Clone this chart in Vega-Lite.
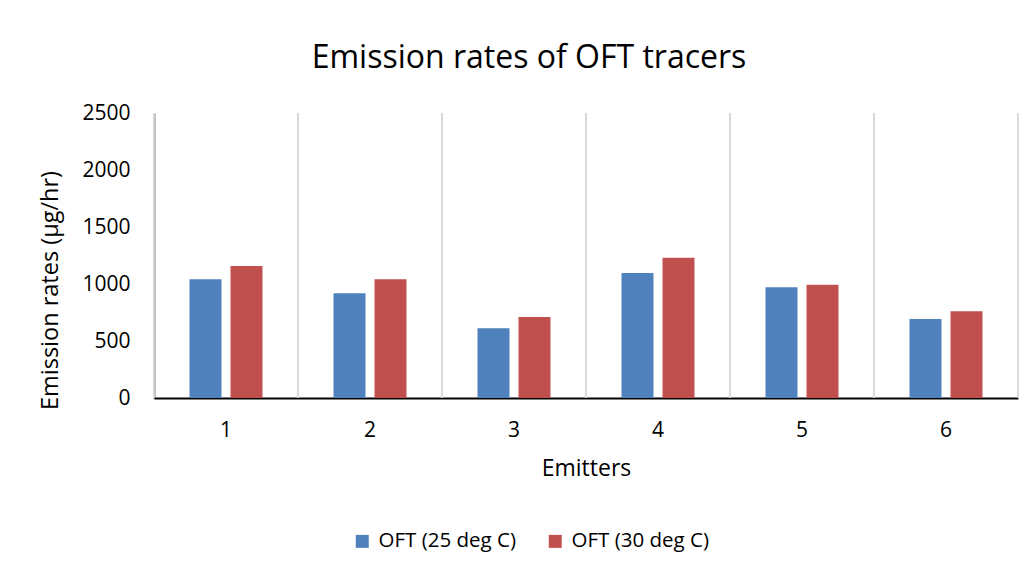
{
  "$schema": "https://vega.github.io/schema/vega-lite/v6.json",
  "width": 864,
  "height": 285,
  "autosize": {"type": "none"},
  "padding": {"left": 154, "top": 113, "right": 16, "bottom": 173},
  "background": "white",
  "config": {
    "view": {"stroke": null},
    "font": "Open Sans"
  },
  "title": {
    "text": "Emission rates of OFT tracers",
    "fontSize": 32,
    "fontWeight": "normal",
    "color": "#000000",
    "font": "Open Sans",
    "dx": -57,
    "offset": 27
  },
  "data": {
    "values": [
      {"Emitter": "1", "Series": "OFT (25 deg C)", "Rate": 1041},
      {"Emitter": "1", "Series": "OFT (30 deg C)", "Rate": 1158},
      {"Emitter": "2", "Series": "OFT (25 deg C)", "Rate": 918},
      {"Emitter": "2", "Series": "OFT (30 deg C)", "Rate": 1041},
      {"Emitter": "3", "Series": "OFT (25 deg C)", "Rate": 611},
      {"Emitter": "3", "Series": "OFT (30 deg C)", "Rate": 711},
      {"Emitter": "4", "Series": "OFT (25 deg C)", "Rate": 1096},
      {"Emitter": "4", "Series": "OFT (30 deg C)", "Rate": 1231},
      {"Emitter": "5", "Series": "OFT (25 deg C)", "Rate": 971},
      {"Emitter": "5", "Series": "OFT (30 deg C)", "Rate": 994},
      {"Emitter": "6", "Series": "OFT (25 deg C)", "Rate": 693},
      {"Emitter": "6", "Series": "OFT (30 deg C)", "Rate": 760}
    ]
  },
  "layer": [
    {
      "mark": {"type": "rule", "color": "#d9d9d9", "strokeWidth": 1.5},
      "encoding": {
        "x": {"field": "Emitter", "type": "nominal", "bandPosition": 0, "scale": {"paddingInner": 0, "paddingOuter": 0}}
      }
    },
    {
      "mark": {"type": "rule", "color": "#d9d9d9", "strokeWidth": 1.5},
      "encoding": {
        "x": {"field": "Emitter", "type": "nominal", "bandPosition": 1, "scale": {"paddingInner": 0, "paddingOuter": 0}}
      }
    },
    {
      "mark": {"type": "bar"},
      "encoding": {
        "x": {
          "field": "Emitter",
          "type": "nominal",
          "scale": {"paddingInner": 0, "paddingOuter": 0},
          "axis": {
            "title": "Emitters",
            "titleFontSize": 23,
            "titleFontWeight": "normal",
            "titleColor": "#000000",
            "titleFont": "Open Sans",
            "titlePadding": 17,
            "labelAngle": 0,
            "labelFontSize": 21,
            "labelColor": "#000000",
            "labelFont": "Open Sans",
            "labelPadding": 32,
            "labelOffset": 6,
            "ticks": false,
            "domainColor": "#000000",
            "domainWidth": 2,
            "grid": false
          }
        },
        "xOffset": {
          "field": "Series",
          "type": "nominal",
          "scale": {"paddingInner": 0.22, "paddingOuter": 0.866}
        },
        "y": {
          "field": "Rate",
          "type": "quantitative",
          "scale": {"domain": [0, 2500]},
          "axis": {
            "title": "Emission rates (µg/hr)",
            "titleFontSize": 23.5,
            "titleFontWeight": "normal",
            "titleColor": "#000000",
            "titleFont": "Open Sans",
            "titleAngle": -90,
            "titleX": -104,
            "titleY": 177,
            "titleAlign": "center",
            "titleBaseline": "middle",
            "values": [0, 500, 1000, 1500, 2000, 2500],
            "format": "d",
            "labelFontSize": 21,
            "labelColor": "#000000",
            "labelFont": "Open Sans",
            "labelPadding": 24,
            "ticks": false,
            "grid": false,
            "domainColor": "#000000",
            "domainWidth": 1.5
          }
        },
        "color": {
          "field": "Series",
          "type": "nominal",
          "scale": {"domain": ["OFT (25 deg C)", "OFT (30 deg C)"], "range": ["#4F81BD", "#C0504D"]},
          "legend": {
            "title": null,
            "orient": "none",
            "direction": "horizontal",
            "legendX": 198,
            "legendY": 418,
            "symbolType": "square",
            "symbolSize": 169,
            "symbolStrokeWidth": 0,
            "labelFontSize": 20.5,
            "labelColor": "#000000",
            "labelFont": "Open Sans",
            "columnPadding": 29,
            "labelOffset": 6
          }
        }
      }
    }
  ]
}
